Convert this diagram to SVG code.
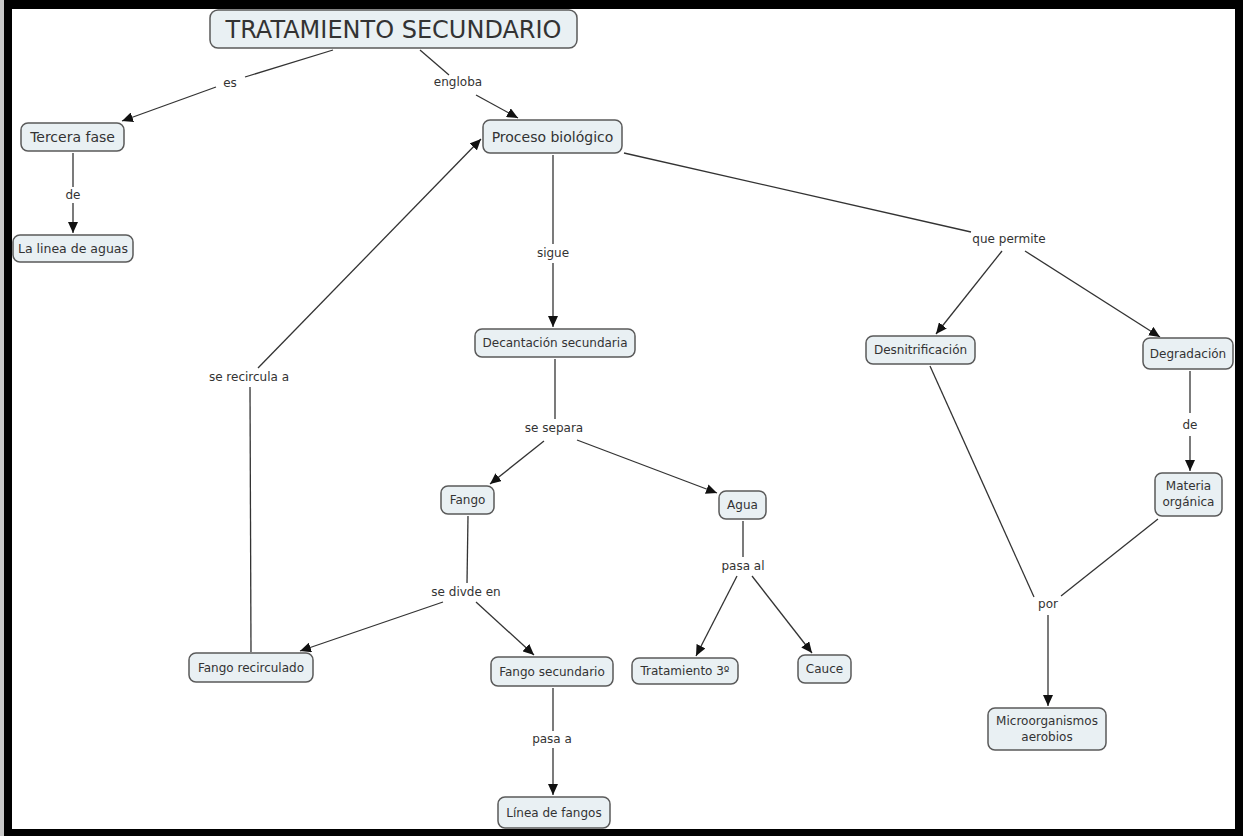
<svg xmlns="http://www.w3.org/2000/svg" width="1243" height="836" viewBox="0 0 1243 836">
<style>
.n rect{fill:#e9f0f3;stroke:#5a5a5a;stroke-width:1.5}
.n text,.lbl text{font-family:"DejaVu Sans",Verdana,sans-serif;font-size:12px;fill:#333;text-anchor:middle}
#conn line{stroke:#333;stroke-width:1.3}
#conn line.a{marker-end:url(#ah)}
</style>
<defs>
<marker id="ah" markerUnits="userSpaceOnUse" markerWidth="12" markerHeight="10" refX="11" refY="5" orient="auto">
<path d="M0,0 L11,5 L0,10 Z" fill="#111"/>
</marker>
</defs>
<rect x="0" y="0" width="1243" height="836" fill="#fff"/>
<rect x="0" y="0" width="4" height="836" fill="#c8c8c8"/>
<path d="M4,0 H1243 V836 H4 Z M12,9 V829 H1235 V9 Z" fill="#000" fill-rule="evenodd"/>

<g id="conn">
<line x1="333" y1="50" x2="245" y2="77"/>
<line class="a" x1="216" y1="87" x2="122" y2="121"/>
<line x1="420" y1="50" x2="449" y2="75"/>
<line class="a" x1="476" y1="95" x2="518" y2="118"/>
<line x1="73" y1="153" x2="73" y2="187"/>
<line class="a" x1="73" y1="203" x2="73" y2="233"/>
<line x1="553" y1="155" x2="553" y2="244"/>
<line class="a" x1="553" y1="263" x2="553" y2="327"/>
<line x1="624" y1="153" x2="971" y2="232"/>
<line class="a" x1="1002" y1="251" x2="936" y2="334"/>
<line class="a" x1="1025" y1="251" x2="1160" y2="337"/>
<line x1="555" y1="359" x2="555" y2="419"/>
<line class="a" x1="544" y1="441" x2="490" y2="484"/>
<line class="a" x1="577" y1="440" x2="717" y2="493"/>
<line x1="468" y1="516" x2="467" y2="583"/>
<line class="a" x1="443" y1="602" x2="300" y2="651"/>
<line class="a" x1="476" y1="602" x2="534" y2="655"/>
<line x1="251" y1="652" x2="250" y2="387"/>
<line class="a" x1="258" y1="368" x2="481" y2="139"/>
<line x1="553" y1="688" x2="553" y2="731"/>
<line class="a" x1="553" y1="748" x2="553" y2="795"/>
<line x1="743" y1="521" x2="743" y2="557"/>
<line class="a" x1="737" y1="576" x2="696" y2="656"/>
<line class="a" x1="752" y1="576" x2="812" y2="653"/>
<line x1="1190" y1="371" x2="1190" y2="413"/>
<line class="a" x1="1190" y1="436" x2="1190" y2="471"/>
<line x1="930" y1="366" x2="1034" y2="597"/>
<line x1="1158" y1="519" x2="1061" y2="596"/>
<line class="a" x1="1048" y1="615" x2="1048" y2="706"/>
</g>

<g class="lbl" id="labels">
<text x="230" y="87">es</text>
<text x="458" y="86">engloba</text>
<text x="73" y="199">de</text>
<text x="553" y="257">sigue</text>
<text x="1009" y="243">que permite</text>
<text x="249" y="381">se recircula a</text>
<text x="554" y="432">se separa</text>
<text x="1190" y="429">de</text>
<text x="466" y="596">se divde en</text>
<text x="743" y="570">pasa al</text>
<text x="1048" y="608">por</text>
<text x="552" y="743">pasa a</text>
</g>

<g class="n" id="n-title"><rect x="210" y="10" width="367" height="38" rx="8"/><text x="393.5" y="37.5" style="font-size:24px">TRATAMIENTO SECUNDARIO</text></g>
<g class="n" id="n-tercera"><rect x="21" y="123" width="103" height="28" rx="7"/><text x="72.5" y="142" style="font-size:14px">Tercera fase</text></g>
<g class="n" id="n-linea-aguas"><rect x="13" y="235" width="120" height="27" rx="7"/><text x="73" y="253" style="font-size:12.5px">La linea de aguas</text></g>
<g class="n" id="n-proceso"><rect x="483" y="120" width="139" height="33" rx="7"/><text x="552.5" y="141.5" style="font-size:14px">Proceso biológico</text></g>
<g class="n" id="n-decantacion"><rect x="475" y="329" width="160" height="28" rx="7"/><text x="555" y="347.3">Decantación secundaria</text></g>
<g class="n" id="n-desnitrificacion"><rect x="866" y="336" width="109" height="28" rx="7"/><text x="920.5" y="354.3">Desnitrificación</text></g>
<g class="n" id="n-degradacion"><rect x="1143" y="338" width="90" height="31" rx="7"/><text x="1188" y="357.8">Degradación</text></g>
<g class="n" id="n-fango"><rect x="441" y="486" width="53" height="28" rx="7"/><text x="467.5" y="504.3">Fango</text></g>
<g class="n" id="n-agua"><rect x="719" y="491" width="47" height="28" rx="7"/><text x="742.5" y="509.3">Agua</text></g>
<g class="n" id="n-materia"><rect x="1155" y="473" width="67" height="43" rx="7"/><text x="1188.5" y="490">Materia</text><text x="1188.5" y="506">orgánica</text></g>
<g class="n" id="n-fango-recirculado"><rect x="189" y="653" width="124" height="29" rx="7"/><text x="251" y="671.8">Fango recirculado</text></g>
<g class="n" id="n-fango-secundario"><rect x="491" y="657" width="122" height="29" rx="7"/><text x="552" y="675.8">Fango secundario</text></g>
<g class="n" id="n-tratamiento3"><rect x="632" y="658" width="106" height="26" rx="7"/><text x="685" y="675.3">Tratamiento 3º</text></g>
<g class="n" id="n-cauce"><rect x="798" y="655" width="53" height="28" rx="7"/><text x="824.5" y="673.3">Cauce</text></g>
<g class="n" id="n-microorganismos"><rect x="988" y="708" width="118" height="42" rx="7"/><text x="1047" y="725">Microorganismos</text><text x="1047" y="741">aerobios</text></g>
<g class="n" id="n-linea-fangos"><rect x="498" y="797" width="112" height="31" rx="7"/><text x="554" y="816.8">Línea de fangos</text></g>
</svg>
